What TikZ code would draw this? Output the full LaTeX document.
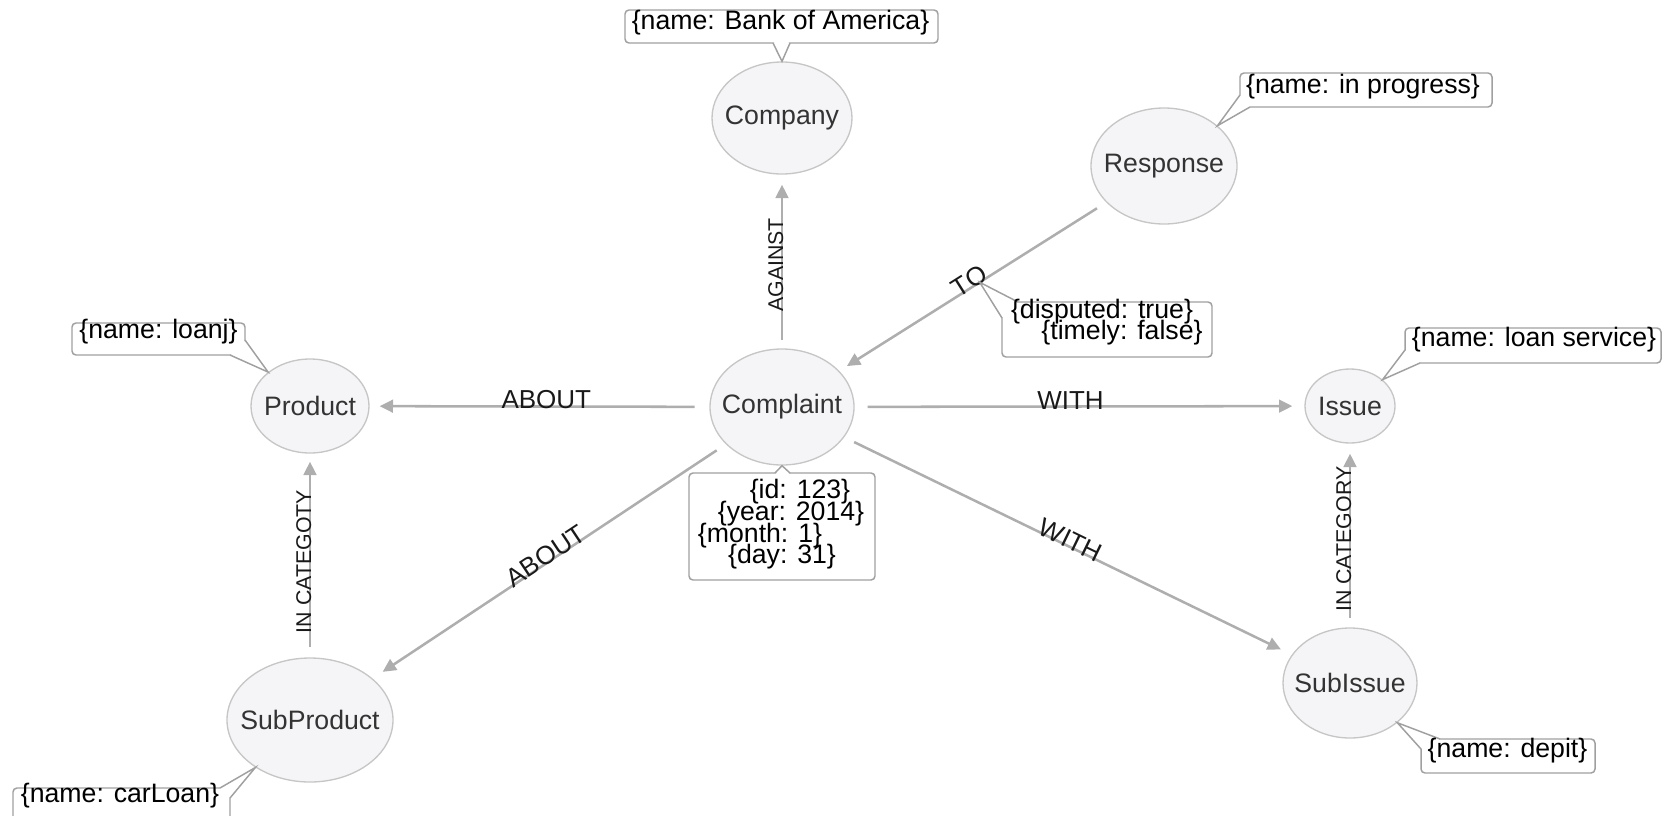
\documentclass[tikz,border=0pt]{standalone}
\usepackage{fontspec}
\setmainfont{Liberation Sans}
\usetikzlibrary{arrows.meta,shapes.geometric}

\definecolor{nodefill}{HTML}{F5F5F7}
\definecolor{nodeline}{HTML}{C6C6C6}
\definecolor{edgecol}{HTML}{AEAEAE}
\definecolor{boxline}{HTML}{A0A0A0}
\definecolor{labeltext}{HTML}{333333}

% label that does not widen its ellipse
\newcommand{\entlabel}[1]{\makebox[0pt]{#1}}

\begin{document}
\begin{tikzpicture}[x=0.75pt,y=-0.75pt,
  entity/.style={ellipse, draw=nodeline, fill=nodefill, line width=1pt,
    inner sep=0pt, text=labeltext, font=\fontsize{20}{24}\selectfont},
  rel/.style={draw=edgecol, line width=1.9pt,
    -{Triangle[length=10pt,width=9.5pt]}, shorten <=8.25pt, shorten >=7.5pt},
  rellabel/.style={pos=0.48, sloped, anchor=south, inner sep=0pt, outer ysep=-2pt,
    font=\fontsize{19.5}{23}\selectfont, text=black!90},
  vrellabel/.style={rellabel, outer ysep=-1pt, font=\fontsize{16}{19}\selectfont},
  propbox/.style={draw=boxline, fill=white, line width=1.1pt,
    rounded corners=3pt, inner sep=0pt},
  proptext/.style={anchor=base, inner sep=0pt, font=\fontsize{20}{24}\selectfont},
  pointer/.style={draw=boxline, line width=1.1pt}
]
\useasboundingbox (0,0) rectangle (1663,815);
\clip (0,0) rectangle (1663,815);

% entities
\node[entity, minimum width=105pt,   minimum height=84pt]   (Company)    at (782,118)  {\entlabel{Company}};
\node[entity, minimum width=109.5pt, minimum height=87pt]   (Response)   at (1164,166) {\entlabel{Response}};
\node[entity, minimum width=108pt,   minimum height=87pt]   (Complaint)  at (782,407)  {\entlabel{Complaint}};
\node[entity, minimum width=88.5pt,  minimum height=70.5pt] (Product)    at (310,406)  {\entlabel{Product}};
\node[entity, minimum width=67.5pt,  minimum height=55.5pt] (Issue)      at (1350,406) {\entlabel{Issue}};
\node[entity, minimum width=124.5pt, minimum height=93pt]   (SubProduct) at (310,720)  {\entlabel{SubProduct}};
\node[entity, minimum width=100.5pt, minimum height=82.5pt] (SubIssue)   at (1350,683) {\entlabel{SubIssue}};

% relationships
\draw[rel, shorten <=6pt] (Complaint) -- (Company) node[vrellabel] {AGAINST};
\draw[rel, shorten >=6.75pt] (Response) -- (Complaint)
  node[rellabel, pos=0.5] {TO} coordinate[pos=0.474] (toPt);
\draw[rel, shorten <=11pt] (Complaint) -- (Product) node[rellabel] {ABOUT};
\draw[rel, shorten <=9.75pt, shorten >=9pt] (Complaint) -- (Issue) node[rellabel] {WITH};
\draw[rel, shorten >=9pt] (Complaint) -- (SubProduct) node[rellabel, pos=0.5] {ABOUT};
\draw[rel, shorten >=9pt] (Complaint) -- (SubIssue) node[rellabel, pos=0.5] {WITH};
\draw[rel, shorten <=7.5pt, shorten >=6pt] (SubProduct) -- (Product) node[vrellabel, pos=0.47] {IN CATEGOTY};
\draw[rel, shorten <=7pt] (SubIssue) -- (Issue) node[vrellabel] {IN CATEGORY};

% property callouts: box, pointer, text
% Company
\node[propbox, minimum width=234.75pt, minimum height=24.75pt] (boaBox) at (781.5,26.5) {};
\fill[white] (773,43) -- (Company.north) -- (790,43) -- (781.5,39) -- cycle;
\draw[pointer] (773,43) -- (Company.north) -- (790,43);
\node[proptext] (boaText) at (780.5,29) {\{name: Bank of America\}};

% Response
\node[propbox, minimum width=189pt, minimum height=25.5pt] (progBox) at (1366,90) {};
\fill[white] (1240,95) -- (Response.37.7) -- (1250,107) -- (1246,100) -- cycle;
\draw[pointer] (1240,95) -- (Response.37.7) -- (1250,107);
\node[proptext] (progText) at (1363,93) {\{name: in progress\}};

% TO relationship
\node[propbox, minimum width=157.5pt, minimum height=41.25pt] (toBox) at (1107,329.5) {};
\fill[white] (1002,318) -- (toPt) -- (1018,302) -- (1008,308) -- cycle;
\draw[pointer] (1002,318) -- (toPt) -- (1018,302);
\node[proptext] (toText1) at (1102,318) {\{disputed: true\}};
\node[proptext] (toText2) at (1122,339) {\{timely: false\}};

% Complaint
\node[propbox, minimum width=139.5pt, minimum height=80.25pt] (cmpBox) at (782,526.5) {};
\fill[white] (775,473) -- (Complaint.south) -- (790,473) -- (782,477) -- cycle;
\draw[pointer] (775,473) -- (Complaint.south) -- (790,473);
\node[proptext] (cmpText1) at (800,498) {\{id: 123\}};
\node[proptext] (cmpText2) at (791,520) {\{year: 2014\}};
\node[proptext] (cmpText3) at (760,542) {\{month: 1\}};
\node[proptext] (cmpText4) at (782,563) {\{day: 31\}};

% Product
\node[propbox, minimum width=129.75pt, minimum height=24pt] (prodBox) at (158.5,339) {};
\fill[white] (245,340) -- (Product.141) -- (230,355) -- (240,350) -- cycle;
\draw[pointer] (245,340) -- (Product.141) -- (230,355);
\node[proptext] (prodText) at (158.5,338) {\{name: loanj\}};

% Issue
\node[propbox, minimum width=192pt, minimum height=26.25pt] (issBox) at (1533,345.5) {};
\fill[white] (1405,350) -- (Issue.39) -- (1420,363) -- (1411,357) -- cycle;
\draw[pointer] (1405,350) -- (Issue.39) -- (1420,363);
\node[proptext] (issText) at (1534,346) {\{name: loan service\}};

% SubIssue
\node[propbox, minimum width=130.5pt, minimum height=25.5pt] (subiBox) at (1508,756) {};
\fill[white] (1421,749) -- (SubIssue.-40) -- (1440,739) -- (1428,745) -- cycle;
\draw[pointer] (1421,749) -- (SubIssue.-40) -- (1440,739);
\node[proptext] (subiText) at (1507.5,757) {\{name: depit\}};

% SubProduct
\node[propbox, minimum width=162.75pt, minimum height=31.5pt] (subpBox) at (121.5,809) {};
\fill[white] (220,788) -- (SubProduct.221) -- (230,798) -- (224,794) -- cycle;
\draw[pointer] (220,788) -- (SubProduct.221) -- (230,798);
\node[proptext] (subpText) at (120,802) {\{name: carLoan\}};
\end{tikzpicture}
\end{document}
